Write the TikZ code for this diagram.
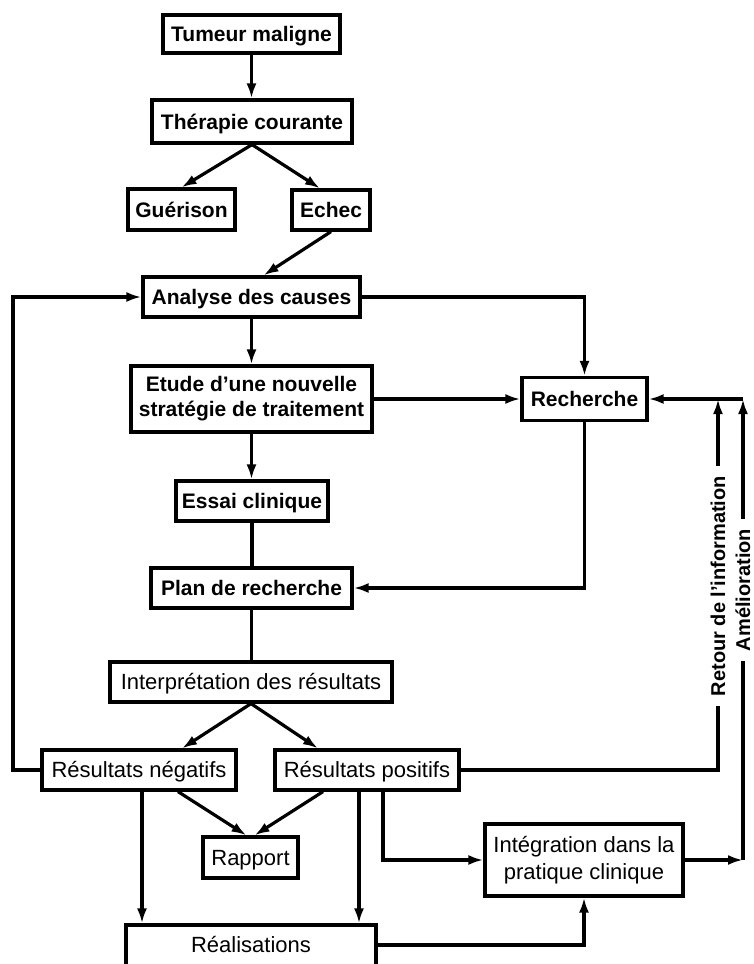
\documentclass[tikz,border=0pt]{standalone}
\usepackage{fontspec}
\setmainfont{Liberation Sans}
\usetikzlibrary{arrows.meta}
\newcommand{\bfbig}{\fontsize{21}{25}\selectfont\bfseries}
\newcommand{\rgbig}{\fontsize{22}{27}\selectfont}
\newcommand{\bflab}{\fontsize{20}{24}\selectfont\bfseries}
\begin{document}
\begin{tikzpicture}[x=1pt,y=-1pt,
  lw/.style={line width=3.2pt},
  arr/.style={lw,-{Latex[length=15pt,width=10pt]}},
  box/.style={draw,lw,inner sep=0pt,align=center,font=\bfbig},
  rbox/.style={box,font=\rgbig},
  one/.style={text height=15pt,text depth=0pt},
  lab/.style={font=\bflab,inner xsep=10pt,inner ysep=0pt,rotate=90}]
\useasboundingbox (0,0) rectangle (753,964);
% boxes
\node[box,one,minimum width=177pt,minimum height=38pt] (tum) at (251.5,34) {Tumeur maligne};
\node[box,one,minimum width=200pt,minimum height=43pt] (ther) at (252,121.5) {Thérapie courante};
\node[box,one,minimum width=107pt,minimum height=41pt] (guer) at (181.5,209.5) {Guérison};
\node[box,one,minimum width=78pt,minimum height=40pt] (echec) at (331,210) {Echec};
\node[box,one,minimum width=217pt,minimum height=40pt] (anal) at (251.5,297) {Analyse des causes};
\node[box,minimum width=241pt,minimum height=66pt] (etude) at (251.5,399) {Etude d’une nouvelle\\stratégie de traitement};
\node[box,one,minimum width=125pt,minimum height=43pt] (rech) at (584.5,399) {Recherche};
\node[box,one,minimum width=152pt,minimum height=40pt] (essai) at (252,501) {Essai clinique};
\node[box,one,minimum width=201pt,minimum height=40pt] (plan) at (251.5,588) {Plan de recherche};
\node[rbox,one,minimum width=282pt,minimum height=40pt] (interp) at (251,682) {Interprétation des résultats};
\node[rbox,one,minimum width=194pt,minimum height=40pt] (neg) at (139,770) {Résultats négatifs};
\node[rbox,one,minimum width=184pt,minimum height=40pt] (pos) at (367,770) {Résultats positifs};
\node[rbox,one,minimum width=95pt,minimum height=41pt] (rapport) at (250.5,857.5) {Rapport};
\node[rbox,minimum width=198pt,minimum height=72pt] (integ) at (584,860) {Intégration dans la\\pratique clinique};
\node[rbox,one,minimum width=250pt,minimum height=60pt] (real) at (251,955) {\raisebox{10pt}{Réalisations}};
% rotated labels
\node[lab] (retour) at (718,586) {Retour de l’information};
\node[lab] (amel) at (743,590) {Amélioration};
\coordinate (lft) at (13,0);
% connectors
\draw[arr] (tum.south) -- (tum.south |- ther.north);
\draw[arr] (ther.south) -- (guer.north);
\draw[arr] (ther.south) -- ([xshift=-11pt]echec.north);
\draw[arr] (echec.south) -- ([xshift=12pt]anal.north);
\draw[arr] (anal.south) -- (anal.south |- etude.north);
\draw[arr] (etude.south) -- (etude.south |- essai.north);
\draw[lw] (essai.south) -- (essai.south |- plan.north);
\draw[lw] (plan.south) -- (plan.south |- interp.north);
\draw[arr] (interp.south) -- ([xshift=43pt]neg.north);
\draw[arr] (interp.south) -- ([xshift=-49pt]pos.north);
\draw[arr] (neg.west) -- (neg.west -| lft) -- (lft |- anal.west) -- (anal.west);
\draw[arr] (anal.east) -| (rech.north);
\draw[arr] (etude.east) -- (etude.east -| rech.west);
\draw[arr] (rech.south) |- (plan.east);
\draw[lw] (pos.east) -| (retour.west);
\draw[arr] (retour.east) -- (retour.east |- rech.east);
\draw[arr] (amel.east) -- (amel.east |- rech.east);
\draw[arr] (amel.east |- rech.east) -- (rech.east);
\draw[arr] (integ.east) -- (integ.east -| amel.west);
\draw[lw] (integ.east -| amel.west) -- (amel.west);
\draw[arr] ([xshift=16pt]pos.south) |- (integ.west);
\draw[arr] ([xshift=-8pt]pos.south) -- ([xshift=-8pt]pos.south |- real.north);
\draw[arr] ([xshift=3pt]neg.south) -- ([xshift=3pt]neg.south |- real.north);
\draw[arr] ([xshift=39pt]neg.south) -- ([xshift=-4pt]rapport.north);
\draw[arr] ([xshift=-44pt]pos.south) -- ([xshift=4pt]rapport.north);
\draw[arr] ([yshift=10pt]real.east) -| (integ.south);
\end{tikzpicture}
\end{document}
